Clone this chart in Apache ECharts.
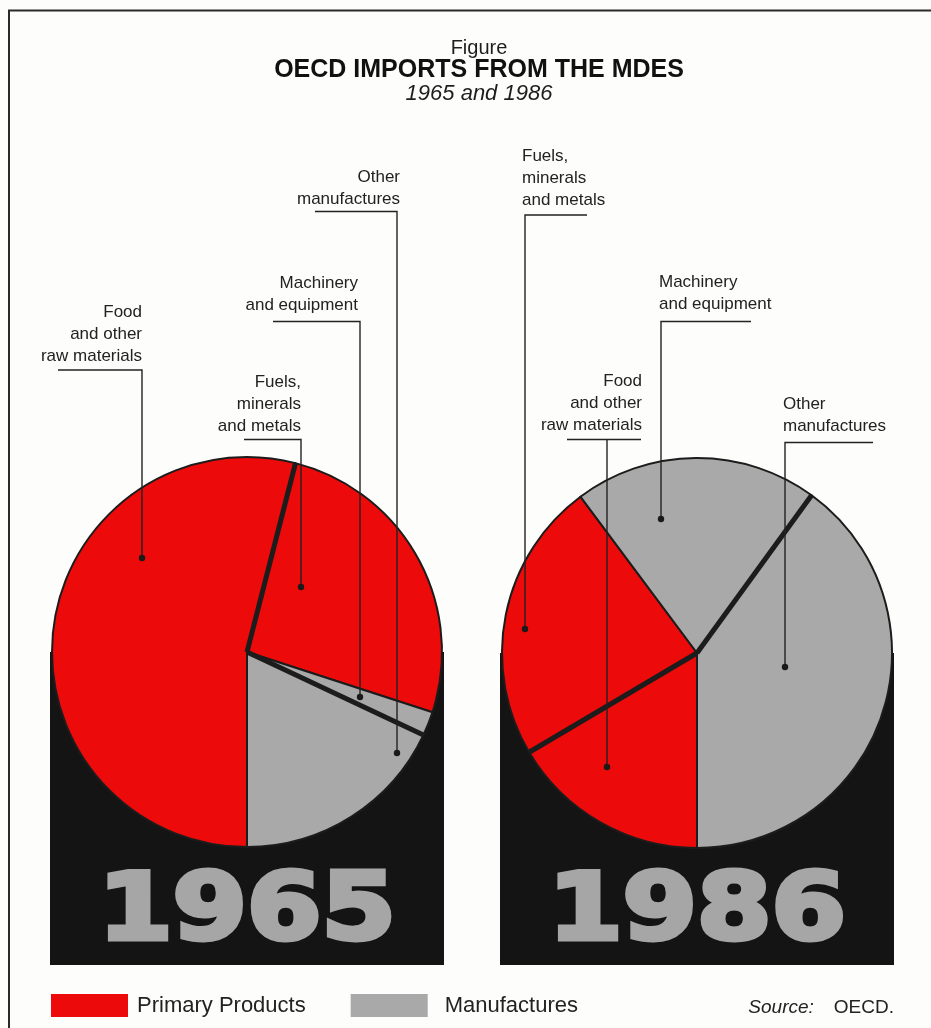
<!DOCTYPE html>
<html><head><meta charset="utf-8">
<script src="https://cdn.jsdelivr.net/npm/echarts@6/dist/echarts.min.js"></script>
<style>html,body{margin:0;padding:0;background:#fdfdfb;}#c{width:931px;height:1028px;}</style>
</head><body><div id="c"></div>
<script>
// ---- data ----
const categories = ['Food\nand other\nraw materials', 'Fuels,\nminerals\nand metals', 'Machinery\nand equipment', 'Other\nmanufactures'];
const categoryGroups = ['Primary Products', 'Primary Products', 'Manufactures', 'Manufactures'];
const values1965 = [54, 26, 2, 18];
const values1986 = [16.5, 23.3, 20.2, 40];
const years = ['1965', '1986'];
const legendLabels = ['Primary Products', 'Manufactures'];

// ---- layout / style (not data) ----
const RED = '#ec0a0a', GREY = '#a9a9a9', INK = '#1c1c1c';
const groupColor = { 'Primary Products': RED, 'Manufactures': GREY };
const pies = [
  { values: values1965, year: years[0], center: [247, 652], r: 195 },
  { values: values1986, year: years[1], center: [697, 653], r: 195 }
];
const labelPos = [
  [ {x:142, y:367, align:'right', segs:[[[58,370],[142,370],[142,558]]]},
    {x:301, y:437, align:'right', segs:[[[244,439.5],[301,439.5],[301,587]]]},
    {x:358, y:316, align:'right', segs:[[[273,321.5],[360,321.5],[360,697]]]},
    {x:400, y:210, align:'right', segs:[[[315,211.5],[397,211.5],[397,753]]]} ],
  [ {x:642, y:436, align:'right', segs:[[[567,439.5],[641,439.5]], [[607,439.5],[607,767]]]},
    {x:522, y:211, align:'left',  segs:[[[587,215],[525,215],[525,629]]]},
    {x:659, y:315, align:'left',  segs:[[[751,321.5],[661,321.5],[661,519]]]},
    {x:783, y:437, align:'left',  segs:[[[873,442.5],[785,442.5],[785,667]]]} ]
];

const chart = echarts.init(document.getElementById('c'), null, { renderer: 'canvas' });
const series = [], polar = [], angleAxis = [], radiusAxis = [], graphic = [];

// frame
graphic.push({ type: 'polyline', z: 0, shape: { points: [[9, 1028], [9, 10.5], [931, 10.5]] }, style: { stroke: '#2a2a2a', lineWidth: 2, fill: null } });

pies.forEach((p, pi) => {
  const total = p.values.reduce((a, b) => a + b, 0);
  polar.push({ center: p.center, radius: p.r });
  angleAxis.push({ polarIndex: pi, type: 'value', min: 0, max: total, startAngle: 270, clockwise: true, show: false });
  radiusAxis.push({ polarIndex: pi, type: 'value', min: 0, max: 1, show: false });
  // black base
  graphic.push({ type: 'rect', z: 0, shape: { x: p.center[0] - 197, y: p.center[1], width: 394, height: 965 - p.center[1] }, style: { fill: '#141414' } });
  graphic.push({ type: 'text', z: 1, x: p.center[0], y: 915, scaleX: 1.15, style: { text: p.year, font: 'bold 93px "DejaVu Sans"', fill: '#a6a6a6', stroke: '#a6a6a6', lineWidth: 5, align: 'center', verticalAlign: 'middle' } });
  // pie
  series.push({
    type: 'pie', center: p.center, radius: p.r, startAngle: 270, clockwise: true,
    avoidLabelOverlap: false, animation: false, z: 2,
    itemStyle: { borderColor: INK, borderWidth: 2 },
    emphasis: { disabled: true },
    data: categories.map((c, i) => ({ name: c, value: p.values[i], itemStyle: { color: groupColor[categoryGroups[i]] } })),
    label: { show: true, position: 'outside', formatter: '{b}', color: '#222', fontFamily: 'Liberation Sans', fontSize: 17, lineHeight: 22 },
    labelLine: { show: false },
    labelLayout: (prm) => { const L = labelPos[pi][prm.dataIndex]; return { x: L.x, y: L.y, align: L.align, verticalAlign: 'bottom' }; }
  });
  // thick separators between categories of the same group
  let cum = 0;
  p.values.forEach((v, i) => {
    if (i > 0 && categoryGroups[i] === categoryGroups[i - 1]) {
      series.push({ type: 'line', coordinateSystem: 'polar', polarIndex: pi, data: [[0, cum], [1, cum]], symbol: 'none', silent: true, animation: false, z: 4, lineStyle: { color: INK, width: 5 } });
    }
    cum += v;
  });
  // leader lines
  labelPos[pi].forEach(L => {
    L.segs.forEach(s => graphic.push({ type: 'polyline', z: 10, shape: { points: s }, style: { stroke: '#222', lineWidth: 1.4, fill: null } }));
    const last = L.segs[L.segs.length - 1];
    const d = last[last.length - 1];
    graphic.push({ type: 'circle', z: 11, shape: { cx: d[0], cy: d[1], r: 3.2 }, style: { fill: '#1a1a1a' } });
  });
});

// legend carriers
legendLabels.forEach(n => series.push({ type: 'scatter', coordinateSystem: 'polar', polarIndex: 0, name: n, data: [], itemStyle: { color: groupColor[n], opacity: 1 } }));

graphic.push({ type: 'text', z: 5, x: 894, y: 1008, style: { text: '{i|Source:}{n|OECD.}', align: 'right', verticalAlign: 'middle', fill: '#222', font: '19px "Liberation Sans"', rich: { i: { fontStyle: 'italic', fontSize: 19, fontFamily: 'Liberation Sans', padding: [0, 20, 0, 0] }, n: { fontSize: 19, fontFamily: 'Liberation Sans' } } } });

const legendText = { fontFamily: 'Liberation Sans', fontSize: 22, color: '#222' };
chart.setOption({
  backgroundColor: '#fdfdfb',
  animation: false,
  title: {
    left: 474, top: 33, textAlign: 'center',
    text: '{a|Figure}\n{b|OECD IMPORTS FROM THE MDES}\n{c|1965 and 1986}',
    textStyle: { fontWeight: 'normal', rich: {
      a: { fontFamily: 'Liberation Sans', fontSize: 20, fontWeight: 'normal', color: '#1e1e1e', lineHeight: 21 },
      b: { fontFamily: 'Liberation Sans', fontSize: 25, fontWeight: 'bold', color: '#111', lineHeight: 23 },
      c: { fontFamily: 'Liberation Sans', fontSize: 22, fontWeight: 'normal', fontStyle: 'italic', color: '#1e1e1e', lineHeight: 24 }
    } }
  },
  legend: {
    data: legendLabels, left: 51, top: 994, padding: 0, icon: 'rect', itemWidth: 77, itemHeight: 23, itemGap: 45,
    formatter: n => (n === legendLabels[0] ? '{p|' : '{m|') + n + '}',
    textStyle: Object.assign({}, legendText, { rich: {
      p: Object.assign({ padding: [0, 0, 0, 4] }, legendText),
      m: Object.assign({ padding: [0, 0, 0, 12] }, legendText)
    } }),
    selectedMode: false
  },
  polar, angleAxis, radiusAxis, series, graphic
});
</script></body></html>
